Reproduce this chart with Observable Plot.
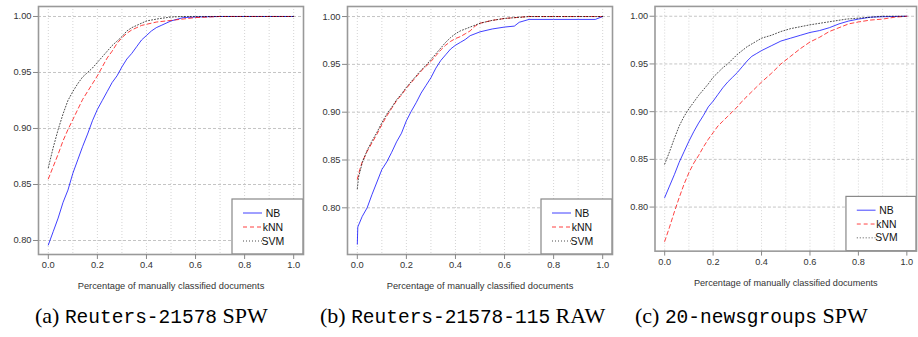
<!DOCTYPE html>
<html><head><meta charset="utf-8">
<script src="https://cdn.jsdelivr.net/npm/d3@7"></script>
<script src="https://cdn.jsdelivr.net/npm/@observablehq/plot@0.6"></script>
<style>
body{margin:0;width:918px;height:337px;overflow:hidden;background:#fff;position:relative}
.panel{position:absolute;top:0}
.cap{position:absolute;top:305px;font-family:"Liberation Serif",serif;font-size:22px;white-space:nowrap;color:#000;line-height:1}
.cap .tt{font-family:"Liberation Mono",monospace;font-size:19.5px}
</style></head><body>
<script>
// ---- shared labels / ticks ----
const methods = ["NB", "kNN", "SVM"];
const xTicks = [0, 0.2, 0.4, 0.6, 0.8, 1.0];
const xGrid = [0, 0.1, 0.2, 0.3, 0.4, 0.5, 0.6, 0.7, 0.8, 0.9, 1.0];
const yTicks = [0.80, 0.85, 0.90, 0.95, 1.00];
const xLabel = "Percentage of manually classified documents";
const capLetters = ["(a)", "(b)", "(c)"];
const capDatasets = ["Reuters-21578", "Reuters-21578-115", "20-newsgroups"];
const capVariants = ["SPW", "RAW", "SPW"];

// ---- panel (a) Reuters-21578 SPW ----
const aNBx  = [0,0.02,0.04,0.06,0.08,0.10,0.12,0.14,0.16,0.18,0.20,0.22,0.24,0.26,0.28,0.30,0.32,0.34,0.36,0.38,0.40,0.42,0.44,0.46,0.48,0.50,0.55,0.60,0.70,1.0];
const aNBy  = [0.796,0.808,0.820,0.834,0.845,0.860,0.872,0.884,0.895,0.907,0.917,0.925,0.933,0.941,0.947,0.955,0.962,0.967,0.973,0.979,0.983,0.987,0.990,0.992,0.994,0.996,0.999,0.9995,1.0,1.0];
const aKNNx = [0,0.02,0.04,0.06,0.08,0.10,0.12,0.14,0.16,0.18,0.20,0.22,0.24,0.26,0.28,0.30,0.32,0.34,0.36,0.38,0.40,0.44,0.48,0.52,0.56,0.60,0.70,1.0];
const aKNNy = [0.855,0.866,0.877,0.889,0.899,0.908,0.917,0.926,0.933,0.940,0.947,0.955,0.963,0.969,0.976,0.981,0.985,0.988,0.990,0.992,0.993,0.995,0.996,0.997,0.998,0.999,1.0,1.0];
const aSVMx = [0,0.02,0.04,0.06,0.08,0.10,0.12,0.14,0.16,0.18,0.20,0.22,0.24,0.26,0.28,0.30,0.32,0.34,0.36,0.38,0.40,0.45,0.50,0.55,1.0];
const aSVMy = [0.865,0.883,0.899,0.913,0.925,0.933,0.940,0.946,0.950,0.954,0.959,0.964,0.969,0.974,0.978,0.982,0.987,0.990,0.992,0.994,0.996,0.998,0.9995,1.0,1.0];

// ---- panel (b) Reuters-21578-115 RAW ----
const bNBx  = [0,0.002,0.02,0.04,0.06,0.08,0.10,0.12,0.14,0.16,0.18,0.20,0.22,0.24,0.26,0.28,0.30,0.32,0.34,0.36,0.38,0.40,0.42,0.44,0.46,0.48,0.50,0.55,0.60,0.64,0.66,0.70,0.80,0.90,0.97,1.0];
const bNBy  = [0.762,0.780,0.791,0.800,0.814,0.827,0.840,0.848,0.858,0.869,0.878,0.891,0.901,0.910,0.920,0.928,0.936,0.946,0.954,0.960,0.966,0.970,0.973,0.976,0.980,0.982,0.984,0.987,0.989,0.990,0.994,0.997,0.997,0.997,0.997,1.0];
const bKNNx = [0,0.01,0.02,0.04,0.06,0.08,0.10,0.12,0.14,0.16,0.18,0.20,0.22,0.24,0.26,0.28,0.30,0.32,0.34,0.36,0.38,0.40,0.42,0.44,0.46,0.48,0.50,0.55,0.60,0.70,1.0];
const bKNNy = [0.830,0.840,0.848,0.859,0.868,0.877,0.887,0.896,0.904,0.912,0.918,0.925,0.931,0.937,0.943,0.948,0.953,0.959,0.965,0.970,0.974,0.977,0.979,0.982,0.985,0.990,0.993,0.996,0.998,1.0,1.0];
const bSVMx = [0,0.005,0.02,0.04,0.06,0.08,0.10,0.12,0.14,0.16,0.18,0.20,0.22,0.24,0.26,0.28,0.30,0.32,0.34,0.36,0.38,0.40,0.42,0.44,0.46,0.48,0.50,0.55,0.60,0.65,0.70,1.0];
const bSVMy = [0.820,0.832,0.847,0.860,0.870,0.879,0.889,0.898,0.905,0.913,0.919,0.926,0.932,0.938,0.944,0.949,0.955,0.961,0.967,0.973,0.978,0.982,0.985,0.987,0.989,0.991,0.993,0.996,0.998,0.999,1.0,1.0];

// ---- panel (c) 20-newsgroups SPW ----
const cNBx  = [0,0.02,0.04,0.06,0.08,0.10,0.12,0.14,0.16,0.18,0.20,0.22,0.24,0.26,0.28,0.30,0.32,0.34,0.36,0.38,0.40,0.44,0.48,0.52,0.56,0.60,0.64,0.68,0.72,0.76,0.80,0.85,0.90,1.0];
const cNBy  = [0.810,0.822,0.834,0.847,0.858,0.869,0.879,0.888,0.896,0.905,0.911,0.918,0.925,0.931,0.936,0.941,0.947,0.953,0.958,0.961,0.964,0.969,0.974,0.977,0.980,0.983,0.985,0.988,0.992,0.995,0.997,0.999,0.9995,1.0];
const cKNNx = [0,0.02,0.04,0.06,0.08,0.10,0.12,0.14,0.16,0.18,0.20,0.22,0.24,0.26,0.28,0.30,0.32,0.34,0.36,0.38,0.40,0.44,0.48,0.52,0.56,0.60,0.64,0.68,0.72,0.76,0.80,0.85,0.90,0.95,1.0];
const cKNNy = [0.764,0.779,0.795,0.810,0.824,0.836,0.846,0.854,0.863,0.871,0.878,0.885,0.890,0.895,0.900,0.905,0.911,0.916,0.921,0.926,0.931,0.940,0.950,0.958,0.966,0.973,0.978,0.984,0.988,0.992,0.994,0.996,0.997,0.999,1.0];
const cSVMx = [0,0.02,0.04,0.06,0.08,0.10,0.12,0.14,0.16,0.18,0.20,0.22,0.24,0.26,0.28,0.30,0.32,0.34,0.36,0.38,0.40,0.44,0.48,0.52,0.56,0.60,0.65,0.70,0.75,0.80,0.85,0.90,1.0];
const cSVMy = [0.845,0.858,0.872,0.885,0.895,0.903,0.910,0.917,0.923,0.929,0.936,0.941,0.946,0.950,0.955,0.960,0.964,0.968,0.971,0.974,0.977,0.980,0.984,0.987,0.989,0.991,0.993,0.995,0.997,0.998,0.999,1.0,1.0];

const yDomains = [[0.7875, 1.0089], [0.7512, 1.0105], [0.7538, 1.0103]];

const series = [
  [[aNBx, aNBy], [aKNNx, aKNNy], [aSVMx, aSVMy]],
  [[bNBx, bNBy], [bKNNx, bKNNy], [bSVMx, bSVMy]],
  [[cNBx, cNBy], [cKNNx, cKNNy], [cSVMx, cSVMy]]
];

const styles = {
  NB:  {stroke: "#0000ff", dash: null},
  kNN: {stroke: "#ff0000", dash: "4,3"},
  SVM: {stroke: "#000000", dash: "1,2"}
};

const panelLeft = [0, 309, 617];
const capLeft = [35, 320, 635];

function legendMark(index, scales, values, dims) {
  const g = d3.create("svg:g");
  const right = dims.width - dims.marginRight;
  const bottom = dims.height - dims.marginBottom;
  const w = 71, h = 55;
  const x0 = right - w, y0 = bottom - h;
  g.append("rect").attr("x", x0).attr("y", y0).attr("width", w).attr("height", h)
    .attr("fill", "white").attr("stroke", "#888").attr("stroke-width", 1.2);
  methods.forEach((m, i) => {
    const yy = y0 + 14 + i * 14;
    const st = styles[m];
    g.append("line").attr("x1", x0 + 11).attr("x2", x0 + 30).attr("y1", yy).attr("y2", yy)
      .attr("stroke", st.stroke).attr("stroke-width", 1).attr("stroke-dasharray", st.dash)
      .attr("stroke-opacity", m === "SVM" ? 0.7 : 0.75);
    g.append("text").attr("x", x0 + 41).attr("y", yy).attr("dy", "0.35em")
      .attr("font-size", "10.5px").attr("fill", "#111").text(m);
  });
  return g.node();
}

for (let p = 0; p < 3; p++) {
  const lineMarks = methods.map((m, i) => {
    const [xs, ys] = series[p][i];
    const data = xs.map((x, k) => ({x, y: ys[k]}));
    return Plot.line(data, {x: "x", y: "y", stroke: styles[m].stroke, strokeWidth: 1,
      strokeOpacity: m === "SVM" ? 0.7 : 0.75, strokeDasharray: styles[m].dash});
  });
  const chart = Plot.plot({
    width: 305, height: 296,
    marginLeft: 38, marginRight: 2, marginTop: 6, marginBottom: 42,
    x: {domain: [-0.04, 1.04]},
    y: {domain: yDomains[p]},
    style: {fontFamily: "'Liberation Sans', Arial, sans-serif", fontSize: "9.3px", color: "#333", background: "white", overflow: "visible"},
    marks: [
      Plot.ruleX(xGrid, {stroke: "#d4d4d4", strokeDasharray: "1,2"}),
      Plot.ruleY(yTicks, {stroke: "#c4c4c4", strokeDasharray: "3,2"}),
      ...lineMarks,
      legendMark,
      Plot.frame({stroke: "#999", strokeWidth: 1.6}),
      Plot.axisX(xTicks, {tickFormat: d3.format(".1f"), tickSize: 5, tickPadding: 2, label: null, stroke: "#888", fill: "#333"}),
      Plot.axisY(yTicks, {tickFormat: d3.format(".2f"), tickSize: 5, tickPadding: 2, label: null, stroke: "#888", fill: "#333"}),
      Plot.text([xLabel], {text: d => d, frameAnchor: "bottom", lineAnchor: "middle", dy: 32, fill: "#333", fontSize: 9.3})
    ]
  });
  const div = document.createElement("div");
  div.className = "panel";
  div.style.left = panelLeft[p] + "px";
  div.appendChild(chart);
  document.body.appendChild(div);

  const cap = document.createElement("div");
  cap.className = "cap";
  cap.style.left = capLeft[p] + "px";
  cap.append(capLetters[p] + " ");
  const tt = document.createElement("span");
  tt.className = "tt";
  tt.textContent = capDatasets[p];
  cap.appendChild(tt);
  cap.append(" " + capVariants[p]);
  document.body.appendChild(cap);
}
</script>
</body></html>
